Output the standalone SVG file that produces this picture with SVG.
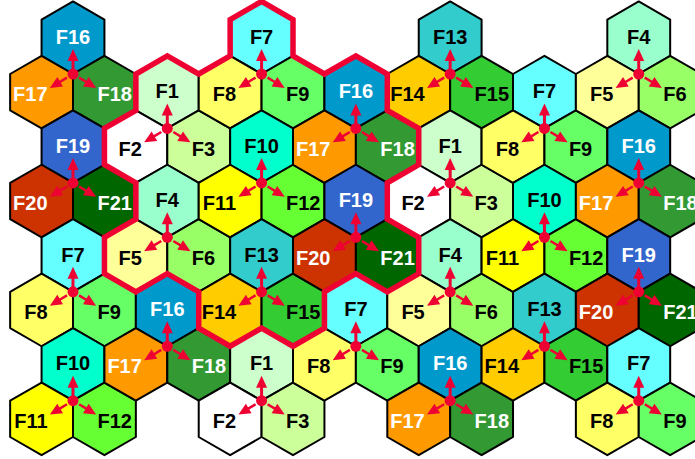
<svg xmlns="http://www.w3.org/2000/svg" xmlns:xlink="http://www.w3.org/1999/xlink" width="695" height="459" viewBox="0 0 695 459">
<style>
.hx{stroke:#000;stroke-width:2;stroke-linejoin:round}
.t{font-family:"Liberation Sans",Arial,sans-serif;font-weight:bold;font-size:20px;fill:#000}
.w{fill:#fff}
.tm{text-anchor:middle}.te{text-anchor:end}.ts{text-anchor:start}
.f1{fill:#CCFFCC}.f2{fill:#FFFFFF}.f3{fill:#CCFF99}.f4{fill:#99FFCC}.f5{fill:#FFFF99}.f6{fill:#99FF66}.f7{fill:#66FFFF}
.f8{fill:#FFFF66}.f9{fill:#66FF66}.f10{fill:#00FFCC}.f11{fill:#FFFF00}.f12{fill:#66FF33}.f13{fill:#33CCCC}.f14{fill:#FFCC00}
.f15{fill:#33CC33}.f16{fill:#0099CC}.f17{fill:#FF9900}.f18{fill:#339933}.f19{fill:#3366CC}.f20{fill:#CC3300}.f21{fill:#006600}
.rd{fill:#EE0033}
.st{stroke:#EE0033;fill:none}
.outline{fill:none;stroke:#EE0033;stroke-width:5.5;stroke-linejoin:miter}
</style>
<defs>
<polygon id="hex" class="hx" points="0,-36.3 31.43,-18.15 31.43,18.15 0,36.3 -31.43,18.15 -31.43,-18.15"/>
<g id="tri">
<line class="st" x1="0" y1="0" x2="0" y2="-14" stroke-width="3"/>
<polygon class="rd" points="0,-25 5.5,-13 -5.5,-13"/>
<line class="st" x1="-6" y1="3.6" x2="-13.71" y2="8.24" stroke-width="2.5"/>
<polygon class="rd" points="-23.14,13.9 -10.03,12.44 -15.69,3.02"/>
<line class="st" x1="6" y1="3.6" x2="13.71" y2="8.24" stroke-width="2.5"/>
<polygon class="rd" points="23.14,13.9 10.03,12.44 15.69,3.02"/>
<circle class="rd" cx="0" cy="0" r="5.5"/>
</g>
</defs>
<rect width="695" height="459" fill="#fff"/>
<g id="nodes">
<!-- c0 r0 F16-18 -->
<g id="n-F16-c0r0" transform="translate(73,37.7)"><use href="#hex" class="f16"/><text class="t w tm" y="6">F16</text></g>
<g id="n-F17-c0r0" transform="translate(41.57,92.15)"><use href="#hex" class="f17"/><text class="t w te" x="6" y="9">F17</text></g>
<g id="n-F18-c0r0" transform="translate(104.43,92.15)"><use href="#hex" class="f18"/><text class="t w ts" x="-7" y="9">F18</text></g>
<!-- c0 r2 F19-21 -->
<g id="n-F19-c0r2" transform="translate(73,146.6)"><use href="#hex" class="f19"/><text class="t w tm" y="6">F19</text></g>
<g id="n-F20-c0r2" transform="translate(41.57,201.05)"><use href="#hex" class="f20"/><text class="t w te" x="6" y="9">F20</text></g>
<g id="n-F21-c0r2" transform="translate(104.43,201.05)"><use href="#hex" class="f21"/><text class="t w ts" x="-7" y="9">F21</text></g>
<!-- c0 r4 F7-9 -->
<g id="n-F7-c0r4" transform="translate(73,255.5)"><use href="#hex" class="f7"/><text class="t tm" y="6">F7</text></g>
<g id="n-F8-c0r4" transform="translate(41.57,309.95)"><use href="#hex" class="f8"/><text class="t te" x="6" y="9">F8</text></g>
<g id="n-F9-c0r4" transform="translate(104.43,309.95)"><use href="#hex" class="f9"/><text class="t ts" x="-7" y="9">F9</text></g>
<!-- c0 r6 F10-12 -->
<g id="n-F10-c0r6" transform="translate(73,364.4)"><use href="#hex" class="f10"/><text class="t tm" y="6">F10</text></g>
<g id="n-F11-c0r6" transform="translate(41.57,418.85)"><use href="#hex" class="f11"/><text class="t te" x="6" y="9">F11</text></g>
<g id="n-F12-c0r6" transform="translate(104.43,418.85)"><use href="#hex" class="f12"/><text class="t ts" x="-7" y="9">F12</text></g>
<!-- c1 r1 F1-3 -->
<g id="n-F1-c1r1" transform="translate(167.29,92.15)"><use href="#hex" class="f1"/><text class="t tm" y="6">F1</text></g>
<g id="n-F2-c1r1" transform="translate(135.86,146.6)"><use href="#hex" class="f2"/><text class="t te" x="6" y="9">F2</text></g>
<g id="n-F3-c1r1" transform="translate(198.72,146.6)"><use href="#hex" class="f3"/><text class="t ts" x="-7" y="9">F3</text></g>
<!-- c1 r3 F4-6 -->
<g id="n-F4-c1r3" transform="translate(167.29,201.05)"><use href="#hex" class="f4"/><text class="t tm" y="6">F4</text></g>
<g id="n-F5-c1r3" transform="translate(135.86,255.5)"><use href="#hex" class="f5"/><text class="t te" x="6" y="9">F5</text></g>
<g id="n-F6-c1r3" transform="translate(198.72,255.5)"><use href="#hex" class="f6"/><text class="t ts" x="-7" y="9">F6</text></g>
<!-- c1 r5 F16-18 -->
<g id="n-F16-c1r5" transform="translate(167.29,309.95)"><use href="#hex" class="f16"/><text class="t w tm" y="6">F16</text></g>
<g id="n-F17-c1r5" transform="translate(135.86,364.4)"><use href="#hex" class="f17"/><text class="t w te" x="6" y="9">F17</text></g>
<g id="n-F18-c1r5" transform="translate(198.72,364.4)"><use href="#hex" class="f18"/><text class="t w ts" x="-7" y="9">F18</text></g>
<!-- c2 r0 F7-9 -->
<g id="n-F7-c2r0" transform="translate(261.58,37.7)"><use href="#hex" class="f7"/><text class="t tm" y="6">F7</text></g>
<g id="n-F8-c2r0" transform="translate(230.15,92.15)"><use href="#hex" class="f8"/><text class="t te" x="6" y="9">F8</text></g>
<g id="n-F9-c2r0" transform="translate(293.01,92.15)"><use href="#hex" class="f9"/><text class="t ts" x="-7" y="9">F9</text></g>
<!-- c2 r2 F10-12 -->
<g id="n-F10-c2r2" transform="translate(261.58,146.6)"><use href="#hex" class="f10"/><text class="t tm" y="6">F10</text></g>
<g id="n-F11-c2r2" transform="translate(230.15,201.05)"><use href="#hex" class="f11"/><text class="t te" x="6" y="9">F11</text></g>
<g id="n-F12-c2r2" transform="translate(293.01,201.05)"><use href="#hex" class="f12"/><text class="t ts" x="-7" y="9">F12</text></g>
<!-- c2 r4 F13-15 -->
<g id="n-F13-c2r4" transform="translate(261.58,255.5)"><use href="#hex" class="f13"/><text class="t tm" y="6">F13</text></g>
<g id="n-F14-c2r4" transform="translate(230.15,309.95)"><use href="#hex" class="f14"/><text class="t te" x="6" y="9">F14</text></g>
<g id="n-F15-c2r4" transform="translate(293.01,309.95)"><use href="#hex" class="f15"/><text class="t ts" x="-7" y="9">F15</text></g>
<!-- c2 r6 F1-3 -->
<g id="n-F1-c2r6" transform="translate(261.58,364.4)"><use href="#hex" class="f1"/><text class="t tm" y="6">F1</text></g>
<g id="n-F2-c2r6" transform="translate(230.15,418.85)"><use href="#hex" class="f2"/><text class="t te" x="6" y="9">F2</text></g>
<g id="n-F3-c2r6" transform="translate(293.01,418.85)"><use href="#hex" class="f3"/><text class="t ts" x="-7" y="9">F3</text></g>
<!-- c3 r1 F16-18 -->
<g id="n-F16-c3r1" transform="translate(355.87,92.15)"><use href="#hex" class="f16"/><text class="t w tm" y="6">F16</text></g>
<g id="n-F17-c3r1" transform="translate(324.44,146.6)"><use href="#hex" class="f17"/><text class="t w te" x="6" y="9">F17</text></g>
<g id="n-F18-c3r1" transform="translate(387.3,146.6)"><use href="#hex" class="f18"/><text class="t w ts" x="-7" y="9">F18</text></g>
<!-- c3 r3 F19-21 -->
<g id="n-F19-c3r3" transform="translate(355.87,201.05)"><use href="#hex" class="f19"/><text class="t w tm" y="6">F19</text></g>
<g id="n-F20-c3r3" transform="translate(324.44,255.5)"><use href="#hex" class="f20"/><text class="t w te" x="6" y="9">F20</text></g>
<g id="n-F21-c3r3" transform="translate(387.3,255.5)"><use href="#hex" class="f21"/><text class="t w ts" x="-7" y="9">F21</text></g>
<!-- c3 r5 F7-9 -->
<g id="n-F7-c3r5" transform="translate(355.87,309.95)"><use href="#hex" class="f7"/><text class="t tm" y="6">F7</text></g>
<g id="n-F8-c3r5" transform="translate(324.44,364.4)"><use href="#hex" class="f8"/><text class="t te" x="6" y="9">F8</text></g>
<g id="n-F9-c3r5" transform="translate(387.3,364.4)"><use href="#hex" class="f9"/><text class="t ts" x="-7" y="9">F9</text></g>
<!-- c4 r0 F13-15 -->
<g id="n-F13-c4r0" transform="translate(450.16,37.7)"><use href="#hex" class="f13"/><text class="t tm" y="6">F13</text></g>
<g id="n-F14-c4r0" transform="translate(418.73,92.15)"><use href="#hex" class="f14"/><text class="t te" x="6" y="9">F14</text></g>
<g id="n-F15-c4r0" transform="translate(481.59,92.15)"><use href="#hex" class="f15"/><text class="t ts" x="-7" y="9">F15</text></g>
<!-- c4 r2 F1-3 -->
<g id="n-F1-c4r2" transform="translate(450.16,146.6)"><use href="#hex" class="f1"/><text class="t tm" y="6">F1</text></g>
<g id="n-F2-c4r2" transform="translate(418.73,201.05)"><use href="#hex" class="f2"/><text class="t te" x="6" y="9">F2</text></g>
<g id="n-F3-c4r2" transform="translate(481.59,201.05)"><use href="#hex" class="f3"/><text class="t ts" x="-7" y="9">F3</text></g>
<!-- c4 r4 F4-6 -->
<g id="n-F4-c4r4" transform="translate(450.16,255.5)"><use href="#hex" class="f4"/><text class="t tm" y="6">F4</text></g>
<g id="n-F5-c4r4" transform="translate(418.73,309.95)"><use href="#hex" class="f5"/><text class="t te" x="6" y="9">F5</text></g>
<g id="n-F6-c4r4" transform="translate(481.59,309.95)"><use href="#hex" class="f6"/><text class="t ts" x="-7" y="9">F6</text></g>
<!-- c4 r6 F16-18 -->
<g id="n-F16-c4r6" transform="translate(450.16,364.4)"><use href="#hex" class="f16"/><text class="t w tm" y="6">F16</text></g>
<g id="n-F17-c4r6" transform="translate(418.73,418.85)"><use href="#hex" class="f17"/><text class="t w te" x="6" y="9">F17</text></g>
<g id="n-F18-c4r6" transform="translate(481.59,418.85)"><use href="#hex" class="f18"/><text class="t w ts" x="-7" y="9">F18</text></g>
<!-- c5 r1 F7-9 -->
<g id="n-F7-c5r1" transform="translate(544.45,92.15)"><use href="#hex" class="f7"/><text class="t tm" y="6">F7</text></g>
<g id="n-F8-c5r1" transform="translate(513.02,146.6)"><use href="#hex" class="f8"/><text class="t te" x="6" y="9">F8</text></g>
<g id="n-F9-c5r1" transform="translate(575.88,146.6)"><use href="#hex" class="f9"/><text class="t ts" x="-7" y="9">F9</text></g>
<!-- c5 r3 F10-12 -->
<g id="n-F10-c5r3" transform="translate(544.45,201.05)"><use href="#hex" class="f10"/><text class="t tm" y="6">F10</text></g>
<g id="n-F11-c5r3" transform="translate(513.02,255.5)"><use href="#hex" class="f11"/><text class="t te" x="6" y="9">F11</text></g>
<g id="n-F12-c5r3" transform="translate(575.88,255.5)"><use href="#hex" class="f12"/><text class="t ts" x="-7" y="9">F12</text></g>
<!-- c5 r5 F13-15 -->
<g id="n-F13-c5r5" transform="translate(544.45,309.95)"><use href="#hex" class="f13"/><text class="t tm" y="6">F13</text></g>
<g id="n-F14-c5r5" transform="translate(513.02,364.4)"><use href="#hex" class="f14"/><text class="t te" x="6" y="9">F14</text></g>
<g id="n-F15-c5r5" transform="translate(575.88,364.4)"><use href="#hex" class="f15"/><text class="t ts" x="-7" y="9">F15</text></g>
<!-- c6 r0 F4-6 -->
<g id="n-F4-c6r0" transform="translate(638.74,37.7)"><use href="#hex" class="f4"/><text class="t tm" y="6">F4</text></g>
<g id="n-F5-c6r0" transform="translate(607.31,92.15)"><use href="#hex" class="f5"/><text class="t te" x="6" y="9">F5</text></g>
<g id="n-F6-c6r0" transform="translate(670.17,92.15)"><use href="#hex" class="f6"/><text class="t ts" x="-7" y="9">F6</text></g>
<!-- c6 r2 F16-18 -->
<g id="n-F16-c6r2" transform="translate(638.74,146.6)"><use href="#hex" class="f16"/><text class="t w tm" y="6">F16</text></g>
<g id="n-F17-c6r2" transform="translate(607.31,201.05)"><use href="#hex" class="f17"/><text class="t w te" x="6" y="9">F17</text></g>
<g id="n-F18-c6r2" transform="translate(670.17,201.05)"><use href="#hex" class="f18"/><text class="t w ts" x="-7" y="9">F18</text></g>
<!-- c6 r4 F19-21 -->
<g id="n-F19-c6r4" transform="translate(638.74,255.5)"><use href="#hex" class="f19"/><text class="t w tm" y="6">F19</text></g>
<g id="n-F20-c6r4" transform="translate(607.31,309.95)"><use href="#hex" class="f20"/><text class="t w te" x="6" y="9">F20</text></g>
<g id="n-F21-c6r4" transform="translate(670.17,309.95)"><use href="#hex" class="f21"/><text class="t w ts" x="-7" y="9">F21</text></g>
<!-- c6 r6 F7-9 -->
<g id="n-F7-c6r6" transform="translate(638.74,364.4)"><use href="#hex" class="f7"/><text class="t tm" y="6">F7</text></g>
<g id="n-F8-c6r6" transform="translate(607.31,418.85)"><use href="#hex" class="f8"/><text class="t te" x="6" y="9">F8</text></g>
<g id="n-F9-c6r6" transform="translate(670.17,418.85)"><use href="#hex" class="f9"/><text class="t ts" x="-7" y="9">F9</text></g>
</g>
<path id="cluster-outline" class="outline" d="M261.58,1.4 L293.01,19.55 L293.01,55.85 L324.44,74 L355.87,55.85 L387.3,74 L387.3,110.3 L418.73,128.45 L418.73,164.75 L387.3,182.9 L387.3,219.2 L418.73,237.35 L418.73,273.65 L387.3,291.8 L355.87,273.65 L324.44,291.8 L324.44,328.1 L293.01,346.25 L261.58,328.1 L230.15,346.25 L198.72,328.1 L198.72,291.8 L167.29,273.65 L135.86,291.8 L104.43,273.65 L104.43,237.35 L135.86,219.2 L135.86,182.9 L104.43,164.75 L104.43,128.45 L135.86,110.3 L135.86,74 L167.29,55.85 L198.72,74 L230.15,55.85 L230.15,19.55 Z"/>
<g id="connectors">
<use href="#tri" x="73" y="74"/>
<use href="#tri" x="73" y="182.9"/>
<use href="#tri" x="73" y="291.8"/>
<use href="#tri" x="73" y="400.7"/>
<use href="#tri" x="167.29" y="128.45"/>
<use href="#tri" x="167.29" y="237.35"/>
<use href="#tri" x="167.29" y="346.25"/>
<use href="#tri" x="261.58" y="74"/>
<use href="#tri" x="261.58" y="182.9"/>
<use href="#tri" x="261.58" y="291.8"/>
<use href="#tri" x="261.58" y="400.7"/>
<use href="#tri" x="355.87" y="128.45"/>
<use href="#tri" x="355.87" y="237.35"/>
<use href="#tri" x="355.87" y="346.25"/>
<use href="#tri" x="450.16" y="74"/>
<use href="#tri" x="450.16" y="182.9"/>
<use href="#tri" x="450.16" y="291.8"/>
<use href="#tri" x="450.16" y="400.7"/>
<use href="#tri" x="544.45" y="128.45"/>
<use href="#tri" x="544.45" y="237.35"/>
<use href="#tri" x="544.45" y="346.25"/>
<use href="#tri" x="638.74" y="74"/>
<use href="#tri" x="638.74" y="182.9"/>
<use href="#tri" x="638.74" y="291.8"/>
<use href="#tri" x="638.74" y="400.7"/>
</g>
</svg>
